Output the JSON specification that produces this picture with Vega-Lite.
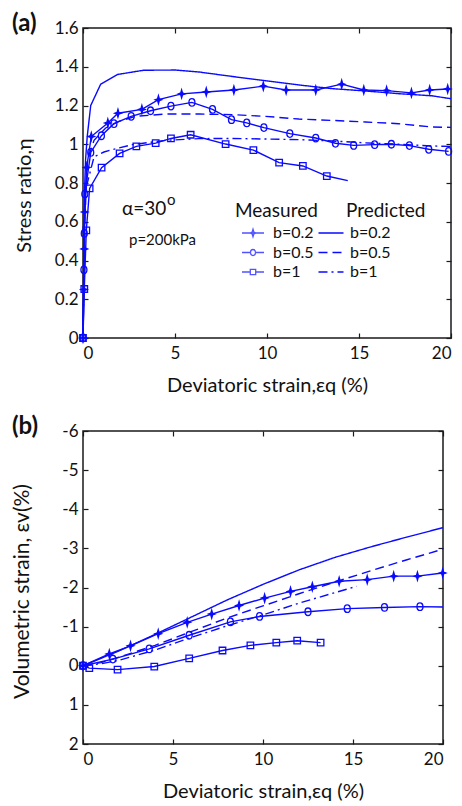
{
  "$schema": "https://vega.github.io/schema/vega-lite/v6.json",
  "background": "white",
  "padding": {"left": 11, "top": 11, "right": 0, "bottom": 2},
  "spacing": 18,
  "config": {
    "font": "Lato",
    "view": {"stroke": "#1a1a1a", "strokeWidth": 1.5},
    "axis": {"domain": false, "grid": false, "tickSize": -5, "tickColor": "#1a1a1a", "tickWidth": 1.2, "labelFontSize": 17, "labelColor": "#111", "titleFontSize": 20, "titleFontWeight": "normal", "titleColor": "#111", "labelPadding": 10},
    "axisX": {"titlePadding": 14, "labelPadding": 12},
    "axisY": {"titlePadding": 20},
    "legend": {"labelFontSize": 16, "labelColor": "#111", "rowPadding": 0.5},
    "title": {"fontSize": 24, "fontWeight": "bold", "color": "#111"}
  },
  "resolve": {"scale": {"strokeDash": "independent", "shape": "independent", "fill": "independent"}, "legend": {"strokeDash": "independent", "shape": "independent", "fill": "independent"}},
  "datasets": {
    "aMeas": [
      {"meas": "b=0.2", "strain": 0, "eta": 0}, {"meas": "b=0.2", "strain": 0.05, "eta": 0.25}, {"meas": "b=0.2", "strain": 0.07, "eta": 0.46}, {"meas": "b=0.2", "strain": 0.09, "eta": 0.65}, {"meas": "b=0.2", "strain": 0.2, "eta": 0.88}, {"meas": "b=0.2", "strain": 0.45, "eta": 1.04}, {"meas": "b=0.2", "strain": 1.35, "eta": 1.11}, {"meas": "b=0.2", "strain": 1.9, "eta": 1.16}, {"meas": "b=0.2", "strain": 3.2, "eta": 1.18}, {"meas": "b=0.2", "strain": 4.1, "eta": 1.23}, {"meas": "b=0.2", "strain": 5.36, "eta": 1.26}, {"meas": "b=0.2", "strain": 6.7, "eta": 1.27}, {"meas": "b=0.2", "strain": 8.2, "eta": 1.28}, {"meas": "b=0.2", "strain": 9.8, "eta": 1.3}, {"meas": "b=0.2", "strain": 11.04, "eta": 1.28}, {"meas": "b=0.2", "strain": 12.65, "eta": 1.28}, {"meas": "b=0.2", "strain": 14.06, "eta": 1.31}, {"meas": "b=0.2", "strain": 15.26, "eta": 1.28}, {"meas": "b=0.2", "strain": 16.5, "eta": 1.277}, {"meas": "b=0.2", "strain": 17.85, "eta": 1.265}, {"meas": "b=0.2", "strain": 18.84, "eta": 1.28}, {"meas": "b=0.2", "strain": 19.82, "eta": 1.285},
      {"meas": "b=0.5", "strain": 0, "eta": 0}, {"meas": "b=0.5", "strain": 0.05, "eta": 0.352}, {"meas": "b=0.5", "strain": 0.07, "eta": 0.54}, {"meas": "b=0.5", "strain": 0.1, "eta": 0.743}, {"meas": "b=0.5", "strain": 0.42, "eta": 0.958}, {"meas": "b=0.5", "strain": 1.0, "eta": 1.044}, {"meas": "b=0.5", "strain": 1.68, "eta": 1.106}, {"meas": "b=0.5", "strain": 2.62, "eta": 1.144}, {"meas": "b=0.5", "strain": 3.67, "eta": 1.173}, {"meas": "b=0.5", "strain": 4.78, "eta": 1.197}, {"meas": "b=0.5", "strain": 5.92, "eta": 1.216}, {"meas": "b=0.5", "strain": 7.04, "eta": 1.18}, {"meas": "b=0.5", "strain": 8.07, "eta": 1.127}, {"meas": "b=0.5", "strain": 8.9, "eta": 1.11}, {"meas": "b=0.5", "strain": 9.83, "eta": 1.086}, {"meas": "b=0.5", "strain": 11.24, "eta": 1.055}, {"meas": "b=0.5", "strain": 12.65, "eta": 1.032}, {"meas": "b=0.5", "strain": 13.72, "eta": 1.005}, {"meas": "b=0.5", "strain": 14.71, "eta": 0.994}, {"meas": "b=0.5", "strain": 15.85, "eta": 0.998}, {"meas": "b=0.5", "strain": 16.76, "eta": 1.0}, {"meas": "b=0.5", "strain": 17.74, "eta": 0.993}, {"meas": "b=0.5", "strain": 18.79, "eta": 0.974}, {"meas": "b=0.5", "strain": 19.87, "eta": 0.963},
      {"meas": "b=1", "strain": 0, "eta": 0}, {"meas": "b=1", "strain": 0.07, "eta": 0.253}, {"meas": "b=1", "strain": 0.18, "eta": 0.556}, {"meas": "b=1", "strain": 0.36, "eta": 0.772}, {"meas": "b=1", "strain": 1.01, "eta": 0.879}, {"meas": "b=1", "strain": 1.99, "eta": 0.953}, {"meas": "b=1", "strain": 2.9, "eta": 0.989}, {"meas": "b=1", "strain": 3.95, "eta": 1.006}, {"meas": "b=1", "strain": 4.78, "eta": 1.03}, {"meas": "b=1", "strain": 5.85, "eta": 1.049}, {"meas": "b=1", "strain": 7.75, "eta": 1.001}, {"meas": "b=1", "strain": 9.26, "eta": 0.97}, {"meas": "b=1", "strain": 10.66, "eta": 0.905}, {"meas": "b=1", "strain": 11.95, "eta": 0.888}, {"meas": "b=1", "strain": 13.25, "eta": 0.836}, {"meas": "b=1", "strain": 14.39, "eta": 0.812}
    ],
    "aPred": [
      {"pred": "b=0.2", "strain": 0, "eta": 0}, {"pred": "b=0.2", "strain": 0.04, "eta": 0.45}, {"pred": "b=0.2", "strain": 0.08, "eta": 0.75}, {"pred": "b=0.2", "strain": 0.14, "eta": 0.92}, {"pred": "b=0.2", "strain": 0.23, "eta": 1.04}, {"pred": "b=0.2", "strain": 0.42, "eta": 1.2}, {"pred": "b=0.2", "strain": 0.96, "eta": 1.31}, {"pred": "b=0.2", "strain": 1.87, "eta": 1.36}, {"pred": "b=0.2", "strain": 3.3, "eta": 1.382}, {"pred": "b=0.2", "strain": 5.03, "eta": 1.383}, {"pred": "b=0.2", "strain": 6.3, "eta": 1.373}, {"pred": "b=0.2", "strain": 8.1, "eta": 1.35}, {"pred": "b=0.2", "strain": 9.92, "eta": 1.328}, {"pred": "b=0.2", "strain": 11.73, "eta": 1.306}, {"pred": "b=0.2", "strain": 13.54, "eta": 1.287}, {"pred": "b=0.2", "strain": 15.35, "eta": 1.275}, {"pred": "b=0.2", "strain": 17.16, "eta": 1.261}, {"pred": "b=0.2", "strain": 18.97, "eta": 1.25}, {"pred": "b=0.2", "strain": 20, "eta": 1.235},
      {"pred": "b=0.5", "strain": 0, "eta": 0}, {"pred": "b=0.5", "strain": 0.08, "eta": 0.6}, {"pred": "b=0.5", "strain": 0.24, "eta": 0.92}, {"pred": "b=0.5", "strain": 0.6, "eta": 1.02}, {"pred": "b=0.5", "strain": 1.23, "eta": 1.084}, {"pred": "b=0.5", "strain": 1.95, "eta": 1.118}, {"pred": "b=0.5", "strain": 2.86, "eta": 1.144}, {"pred": "b=0.5", "strain": 4.49, "eta": 1.156}, {"pred": "b=0.5", "strain": 6.3, "eta": 1.156}, {"pred": "b=0.5", "strain": 8.1, "eta": 1.153}, {"pred": "b=0.5", "strain": 9.92, "eta": 1.144}, {"pred": "b=0.5", "strain": 11.73, "eta": 1.13}, {"pred": "b=0.5", "strain": 13.54, "eta": 1.123}, {"pred": "b=0.5", "strain": 15.35, "eta": 1.115}, {"pred": "b=0.5", "strain": 17.16, "eta": 1.106}, {"pred": "b=0.5", "strain": 18.97, "eta": 1.089}, {"pred": "b=0.5", "strain": 20, "eta": 1.087},
      {"pred": "b=1", "strain": 0, "eta": 0}, {"pred": "b=1", "strain": 0.1, "eta": 0.6}, {"pred": "b=1", "strain": 0.18, "eta": 0.78}, {"pred": "b=1", "strain": 0.6, "eta": 0.935}, {"pred": "b=1", "strain": 1.14, "eta": 0.96}, {"pred": "b=1", "strain": 1.59, "eta": 0.972}, {"pred": "b=1", "strain": 2.68, "eta": 0.998}, {"pred": "b=1", "strain": 4.49, "eta": 1.02}, {"pred": "b=1", "strain": 6.3, "eta": 1.029}, {"pred": "b=1", "strain": 8.1, "eta": 1.03}, {"pred": "b=1", "strain": 9.92, "eta": 1.027}, {"pred": "b=1", "strain": 11.73, "eta": 1.024}, {"pred": "b=1", "strain": 13.54, "eta": 1.017}, {"pred": "b=1", "strain": 15.35, "eta": 1.007}, {"pred": "b=1", "strain": 17.16, "eta": 1.0}, {"pred": "b=1", "strain": 18.97, "eta": 0.991}, {"pred": "b=1", "strain": 20, "eta": 0.989}
    ],
    "bMeas": [
      {"meas": "b=0.2", "strain": 0, "ev": 0}, {"meas": "b=0.2", "strain": 1.46, "ev": -0.3}, {"meas": "b=0.2", "strain": 2.64, "ev": -0.51}, {"meas": "b=0.2", "strain": 4.18, "ev": -0.82}, {"meas": "b=0.2", "strain": 5.79, "ev": -1.11}, {"meas": "b=0.2", "strain": 7.15, "ev": -1.32}, {"meas": "b=0.2", "strain": 8.67, "ev": -1.54}, {"meas": "b=0.2", "strain": 10.09, "ev": -1.73}, {"meas": "b=0.2", "strain": 11.53, "ev": -1.9}, {"meas": "b=0.2", "strain": 12.74, "ev": -2.02}, {"meas": "b=0.2", "strain": 14.23, "ev": -2.16}, {"meas": "b=0.2", "strain": 15.79, "ev": -2.2}, {"meas": "b=0.2", "strain": 17.26, "ev": -2.29}, {"meas": "b=0.2", "strain": 18.58, "ev": -2.29}, {"meas": "b=0.2", "strain": 19.98, "ev": -2.37},
      {"meas": "b=0.5", "strain": 0, "ev": 0}, {"meas": "b=0.5", "strain": 1.66, "ev": -0.17}, {"meas": "b=0.5", "strain": 3.68, "ev": -0.43}, {"meas": "b=0.5", "strain": 5.9, "ev": -0.78}, {"meas": "b=0.5", "strain": 8.19, "ev": -1.12}, {"meas": "b=0.5", "strain": 9.81, "ev": -1.26}, {"meas": "b=0.5", "strain": 12.5, "ev": -1.38}, {"meas": "b=0.5", "strain": 14.68, "ev": -1.46}, {"meas": "b=0.5", "strain": 16.75, "ev": -1.49}, {"meas": "b=0.5", "strain": 18.72, "ev": -1.51}, {"meas": "b=0.5", "strain": 20, "ev": -1.5},
      {"meas": "b=1", "strain": 0, "ev": 0}, {"meas": "b=1", "strain": 0.35, "ev": 0.06}, {"meas": "b=1", "strain": 1.92, "ev": 0.1}, {"meas": "b=1", "strain": 3.96, "ev": 0.02}, {"meas": "b=1", "strain": 5.9, "ev": -0.19}, {"meas": "b=1", "strain": 7.75, "ev": -0.39}, {"meas": "b=1", "strain": 9.3, "ev": -0.52}, {"meas": "b=1", "strain": 10.74, "ev": -0.59}, {"meas": "b=1", "strain": 11.9, "ev": -0.64}, {"meas": "b=1", "strain": 13.2, "ev": -0.59}
    ],
    "bPred": [
      {"pred": "b=0.2", "strain": 0, "ev": 0}, {"pred": "b=0.2", "strain": 2, "ev": -0.38}, {"pred": "b=0.2", "strain": 4, "ev": -0.8}, {"pred": "b=0.2", "strain": 6, "ev": -1.24}, {"pred": "b=0.2", "strain": 8, "ev": -1.68}, {"pred": "b=0.2", "strain": 10, "ev": -2.08}, {"pred": "b=0.2", "strain": 12, "ev": -2.45}, {"pred": "b=0.2", "strain": 14, "ev": -2.77}, {"pred": "b=0.2", "strain": 16, "ev": -3.04}, {"pred": "b=0.2", "strain": 18, "ev": -3.29}, {"pred": "b=0.2", "strain": 20, "ev": -3.53},
      {"pred": "b=0.5", "strain": 0, "ev": 0}, {"pred": "b=0.5", "strain": 1, "ev": -0.08}, {"pred": "b=0.5", "strain": 2, "ev": -0.22}, {"pred": "b=0.5", "strain": 4, "ev": -0.52}, {"pred": "b=0.5", "strain": 6, "ev": -0.87}, {"pred": "b=0.5", "strain": 8, "ev": -1.22}, {"pred": "b=0.5", "strain": 10, "ev": -1.53}, {"pred": "b=0.5", "strain": 12, "ev": -1.84}, {"pred": "b=0.5", "strain": 14, "ev": -2.14}, {"pred": "b=0.5", "strain": 16, "ev": -2.43}, {"pred": "b=0.5", "strain": 18, "ev": -2.71}, {"pred": "b=0.5", "strain": 20, "ev": -2.98},
      {"pred": "b=1", "strain": 0, "ev": 0}, {"pred": "b=1", "strain": 1, "ev": -0.05}, {"pred": "b=1", "strain": 2, "ev": -0.14}, {"pred": "b=1", "strain": 4, "ev": -0.4}, {"pred": "b=1", "strain": 6, "ev": -0.72}, {"pred": "b=1", "strain": 8, "ev": -1.02}, {"pred": "b=1", "strain": 10, "ev": -1.3}, {"pred": "b=1", "strain": 12, "ev": -1.6}, {"pred": "b=1", "strain": 14, "ev": -1.87}, {"pred": "b=1", "strain": 15.2, "ev": -2.03}
    ]
  },
  "vconcat": [
    {
      "width": 368,
      "height": 310,
      "title": {"text": "(a)", "anchor": "start", "frame": "group", "dx": -71, "baseline": "alphabetic", "offset": -36},
      "resolve": {"axis": {"x": "independent", "y": "independent"}, "scale": {"shape": "independent"}, "legend": {"shape": "independent"}},
      "layer": [
        {
          "data": {"name": "aPred"},
          "mark": {"type": "line", "color": "#0a0aff", "strokeWidth": 1.4},
          "encoding": {
            "x": {"field": "strain", "type": "quantitative", "scale": {"domain": [0, 20], "nice": false}, "axis": {"values": [0, 5, 10, 15, 20], "title": "Deviatoric strain,εq (%)"}},
            "y": {"field": "eta", "type": "quantitative", "scale": {"domain": [0, 1.6], "nice": false}, "axis": {"values": [0, 0.2, 0.4, 0.6, 0.8, 1, 1.2, 1.4, 1.6], "labelExpr": "toString(datum.value)", "title": "Stress ratio,η", "titleY": 167}},
            "strokeDash": {"field": "pred", "type": "nominal", "scale": {"range": [[1, 0], [9, 5], [9, 4, 2, 4]]},
              "legend": {"title": null, "orient": "none", "legendX": 237, "legendY": 194, "symbolType": "M-1.25,0H1.25", "symbolSize": 400, "symbolStrokeWidth": 1.4, "symbolStrokeColor": "#0a0aff", "symbolFillColor": "transparent", "labelOffset": 8}},
            "detail": {"field": "pred"}
          }
        },
        {
          "data": {"name": "aMeas"},
          "mark": {"type": "line", "color": "#0a0aff", "strokeWidth": 1.4},
          "encoding": {
            "x": {"field": "strain", "type": "quantitative", "axis": null},
            "y": {"field": "eta", "type": "quantitative", "axis": null},
            "detail": {"field": "meas"}
          }
        },
        {
          "data": {"name": "aMeas"},
          "transform": [{"filter": "!(datum.meas === 'b=1' && datum.strain > 14)"}],
          "mark": {"type": "point", "filled": false, "stroke": "#0a0aff", "strokeWidth": 1.3, "size": 100, "opacity": 1},
          "encoding": {
            "x": {"field": "strain", "type": "quantitative", "axis": {"orient": "top", "values": [0, 5, 10, 15, 20], "labels": false, "title": null}},
            "y": {"field": "eta", "type": "quantitative", "axis": {"orient": "right", "values": [0, 0.2, 0.4, 0.6, 0.8, 1, 1.2, 1.4, 1.6], "labels": false, "title": null}},
            "shape": {"field": "meas", "type": "nominal", "scale": {"domain": ["b=0.2", "b=0.5", "b=1"], "range": ["M0,-0.8L0.18,-0.18L0.65,0L0.18,0.18L0,0.8L-0.18,0.18L-0.65,0L-0.18,-0.18Z", "M0,-0.75A0.6,0.75 0 1,1 0,0.75A0.6,0.75 0 1,1 0,-0.75Z", "M-0.65,-0.65H0.65V0.65H-0.65Z"]}, "legend": null},
            "fill": {"field": "meas", "type": "nominal", "scale": {"domain": ["b=0.2", "b=0.5", "b=1"], "range": ["#0a0aff", "transparent", "transparent"]}, "legend": null}
          }
        },
        {
          "data": {"name": "aMeas"},
          "transform": [{"filter": "false"}],
          "mark": {"type": "point", "filled": false, "stroke": "#0a0aff", "strokeWidth": 1.3, "size": 400},
          "encoding": {
            "x": {"field": "strain", "type": "quantitative", "axis": null},
            "y": {"field": "eta", "type": "quantitative", "axis": null},
            "shape": {"field": "meas", "type": "nominal", "scale": {"domain": ["b=0.2", "b=0.5", "b=1"], "range": ["M-1.1,0H1.1M0,-0.38L0.09,-0.09L0.28,0L0.09,0.09L0,0.38L-0.09,0.09L-0.28,0L-0.09,-0.09Z", "M-1.1,0H-0.25M0.25,0H1.1M0,-0.3A0.25,0.3 0 1,1 0,0.3A0.25,0.3 0 1,1 0,-0.3Z", "M-1.1,0H-0.27M0.27,0H1.1M-0.27,-0.27H0.27V0.27H-0.27Z"]},
              "legend": {"title": null, "orient": "none", "legendX": 159, "legendY": 194, "symbolSize": 400, "symbolStrokeWidth": 1.3, "symbolStrokeColor": "#0a0aff", "labelOffset": 9}}
          }
        },
        {
          "data": {"values": [{"note": "Measured"}]},
          "mark": {"type": "text", "align": "left", "baseline": "alphabetic", "fontSize": 19, "color": "#111"},
          "encoding": {"x": {"datum": 8.26, "type": "quantitative", "axis": null}, "y": {"datum": 0.6245, "type": "quantitative", "axis": null}, "text": {"field": "note"}}
        },
        {
          "data": {"values": [{"note": "Predicted"}]},
          "mark": {"type": "text", "align": "left", "baseline": "alphabetic", "fontSize": 19, "color": "#111"},
          "encoding": {"x": {"datum": 14.29, "type": "quantitative", "axis": null}, "y": {"datum": 0.6245, "type": "quantitative", "axis": null}, "text": {"field": "note"}}
        },
        {
          "data": {"values": [{"note": "α=30"}]},
          "mark": {"type": "text", "align": "left", "baseline": "alphabetic", "fontSize": 19, "color": "#111"},
          "encoding": {"x": {"datum": 2.12, "type": "quantitative", "axis": null}, "y": {"datum": 0.635, "type": "quantitative", "axis": null}, "text": {"field": "note"}}
        },
        {
          "data": {"values": [{"note": "o"}]},
          "mark": {"type": "text", "align": "left", "baseline": "middle", "fontSize": 15, "color": "#111"},
          "encoding": {"x": {"datum": 4.57, "type": "quantitative", "axis": null}, "y": {"datum": 0.71, "type": "quantitative", "axis": null}, "text": {"field": "note"}}
        },
        {
          "data": {"values": [{"note": "p=200kPa"}]},
          "mark": {"type": "text", "align": "left", "baseline": "alphabetic", "fontSize": 15, "color": "#111"},
          "encoding": {"x": {"datum": 2.5, "type": "quantitative", "axis": null}, "y": {"datum": 0.48, "type": "quantitative", "axis": null}, "text": {"field": "note"}}
        }
      ]
    },
    {
      "width": 360,
      "height": 313,
      "title": {"text": "(b)", "anchor": "start", "frame": "group", "dx": -71, "baseline": "alphabetic", "offset": -36},
      "resolve": {"axis": {"x": "independent", "y": "independent"}},
      "layer": [
        {
          "data": {"name": "bPred"},
          "mark": {"type": "line", "color": "#0a0aff", "strokeWidth": 1.4},
          "encoding": {
            "x": {"field": "strain", "type": "quantitative", "scale": {"domain": [0, 20], "nice": false}, "axis": {"values": [0, 5, 10, 15, 20], "title": "Deviatoric strain,εq (%)"}},
            "y": {"field": "ev", "type": "quantitative", "scale": {"domain": [-6, 2], "nice": false, "reverse": true}, "axis": {"values": [-6, -5, -4, -3, -2, -1, 0, 1, 2], "labelExpr": "toString(datum.value)", "title": "Volumetric strain, εv(%)", "titleFontSize": 21, "titlePadding": 29, "titleY": 160}},
            "strokeDash": {"field": "pred", "type": "nominal", "scale": {"range": [[1, 0], [9, 5], [9, 4, 2, 4]]}, "legend": null},
            "detail": {"field": "pred"}
          }
        },
        {
          "data": {"name": "bMeas"},
          "mark": {"type": "line", "color": "#0a0aff", "strokeWidth": 1.4},
          "encoding": {
            "x": {"field": "strain", "type": "quantitative", "axis": null},
            "y": {"field": "ev", "type": "quantitative", "axis": null},
            "detail": {"field": "meas"}
          }
        },
        {
          "data": {"name": "bMeas"},
          "transform": [{"filter": "!(datum.meas === 'b=0.5' && datum.strain > 19.5)"}],
          "mark": {"type": "point", "filled": false, "stroke": "#0a0aff", "strokeWidth": 1.3, "size": 100, "opacity": 1},
          "encoding": {
            "x": {"field": "strain", "type": "quantitative", "axis": {"orient": "top", "values": [0, 5, 10, 15, 20], "labels": false, "title": null}},
            "y": {"field": "ev", "type": "quantitative", "axis": {"orient": "right", "values": [-6, -5, -4, -3, -2, -1, 0, 1, 2], "labels": false, "title": null}},
            "shape": {"field": "meas", "type": "nominal", "scale": {"domain": ["b=0.2", "b=0.5", "b=1"], "range": ["M0,-0.8L0.18,-0.18L0.65,0L0.18,0.18L0,0.8L-0.18,0.18L-0.65,0L-0.18,-0.18Z", "M0,-0.75A0.6,0.75 0 1,1 0,0.75A0.6,0.75 0 1,1 0,-0.75Z", "M-0.65,-0.65H0.65V0.65H-0.65Z"]}, "legend": null},
            "fill": {"field": "meas", "type": "nominal", "scale": {"domain": ["b=0.2", "b=0.5", "b=1"], "range": ["#0a0aff", "transparent", "transparent"]}, "legend": null}
          }
        }
      ]
    }
  ]
}
